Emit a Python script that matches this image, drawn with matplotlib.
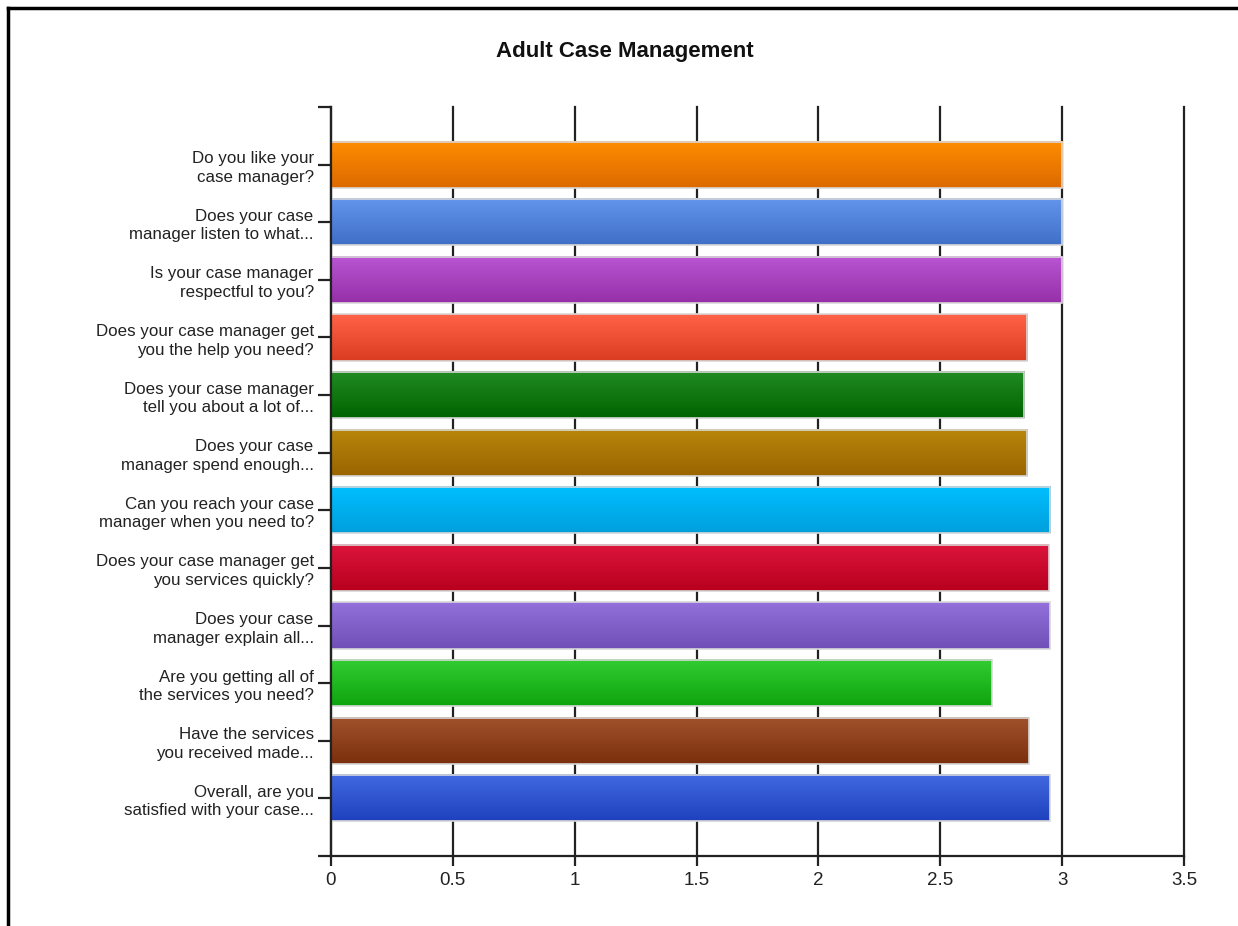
"""Adult Case Management survey: mean score per question as gradient bars."""

import matplotlib.pyplot as plt
import numpy as np
from matplotlib.colors import LinearSegmentedColormap
from matplotlib.lines import Line2D

QUESTIONS = [
    "Do you like your\ncase manager?",
    "Does your case\nmanager listen to what...",
    "Is your case manager\nrespectful to you?",
    "Does your case manager get\nyou the help you need?",
    "Does your case manager\ntell you about a lot of...",
    "Does your case\nmanager spend enough...",
    "Can you reach your case\nmanager when you need to?",
    "Does your case manager get\nyou services quickly?",
    "Does your case\nmanager explain all...",
    "Are you getting all of\nthe services you need?",
    "Have the services\nyou received made...",
    "Overall, are you\nsatisfied with your case...",
]
SCORES = [3.0, 3.0, 3.0, 2.857, 2.844, 2.857, 2.952, 2.945, 2.95, 2.711, 2.863, 2.95]

# (top, bottom) of each bar's vertical gradient
TOP_COLORS = ["#ff8c00", "#6495ed", "#ba55d3", "#ff6347", "#228b22", "#b8860b",
              "#00bfff", "#dc143c", "#9370db", "#32cd32", "#a0522d", "#4169e1"]
BOTTOM_COLORS = ["#dc6a00", "#3f6fc6", "#9530a8", "#da3c22", "#006400", "#9a6400",
                 "#009fdc", "#b8001e", "#7050b6", "#0ea40e", "#7c2f0c", "#1f41bd"]

X_TICKS = [0, 0.5, 1, 1.5, 2, 2.5, 3, 3.5]

plt.rcParams["font.family"] = ["Liberation Sans", "DejaVu Sans"]

fig = plt.figure(figsize=(12.38, 9.26), dpi=100)
ax = fig.add_axes([331 / 1238, 1 - 856 / 926, (1184 - 331) / 1238, (856 - 107) / 926])

y_pos = np.arange(len(QUESTIONS))
bars = ax.barh(y_pos, SCORES, height=0.8, color="none",
               edgecolor="#d8d8d8", linewidth=1.2, zorder=3)

# fill each bar with a vertical gradient (light on top, dark at the bottom)
for bar, c_top, c_bot in zip(bars, TOP_COLORS, BOTTOM_COLORS):
    cmap = LinearSegmentedColormap.from_list("g", [c_top, c_bot])
    x0, y0 = bar.get_x(), bar.get_y()
    w, h = bar.get_width(), bar.get_height()
    grad = np.linspace(0, 1, 64).reshape(-1, 1)
    ax.imshow(grad, cmap=cmap, aspect="auto", interpolation="bilinear",
              extent=(x0, x0 + w, y0, y0 + h), origin="lower", zorder=2)

ax.set_xlim(0, 3.5)
ax.set_ylim(12, -1)
ax.set_xticks(X_TICKS)
ax.set_xticklabels([f"{t:g}" for t in X_TICKS], fontsize=13.5, color="#222222")
ax.set_yticks(y_pos)
ax.set_yticklabels(QUESTIONS, fontsize=12.2, color="#222222", linespacing=1.3)
ax.set_yticks([-1, 12], minor=True)

ax.grid(axis="x", color="#222222", linewidth=1.6, zorder=1)
ax.set_axisbelow(True)
for line in ax.get_xgridlines():
    line.set_clip_on(False)
for side in ("top", "right"):
    ax.spines[side].set_visible(False)
for side in ("left", "bottom"):
    ax.spines[side].set_color("#222222")
    ax.spines[side].set_linewidth(1.6)
    ax.spines[side].set_zorder(4)

ax.tick_params(axis="y", which="both", length=9.5, width=1.6, color="#222222", pad=3)
ax.tick_params(axis="x", length=7.5, width=1.6, color="#222222", pad=4)

fig.text(625 / 1238, 1 - 51 / 926, "Adult Case Management", ha="center",
         va="center", fontsize=16, fontweight="bold", color="#111111")

# outer frame (top and left edges)
fig.add_artist(Line2D([8 / 1238, 1.0], [1 - 8 / 926] * 2, color="black",
                      linewidth=2.5, transform=fig.transFigure))
fig.add_artist(Line2D([8 / 1238] * 2, [0.0, 1 - 8 / 926], color="black",
                      linewidth=2.5, transform=fig.transFigure))

fig.savefig("out.png", dpi=100)
